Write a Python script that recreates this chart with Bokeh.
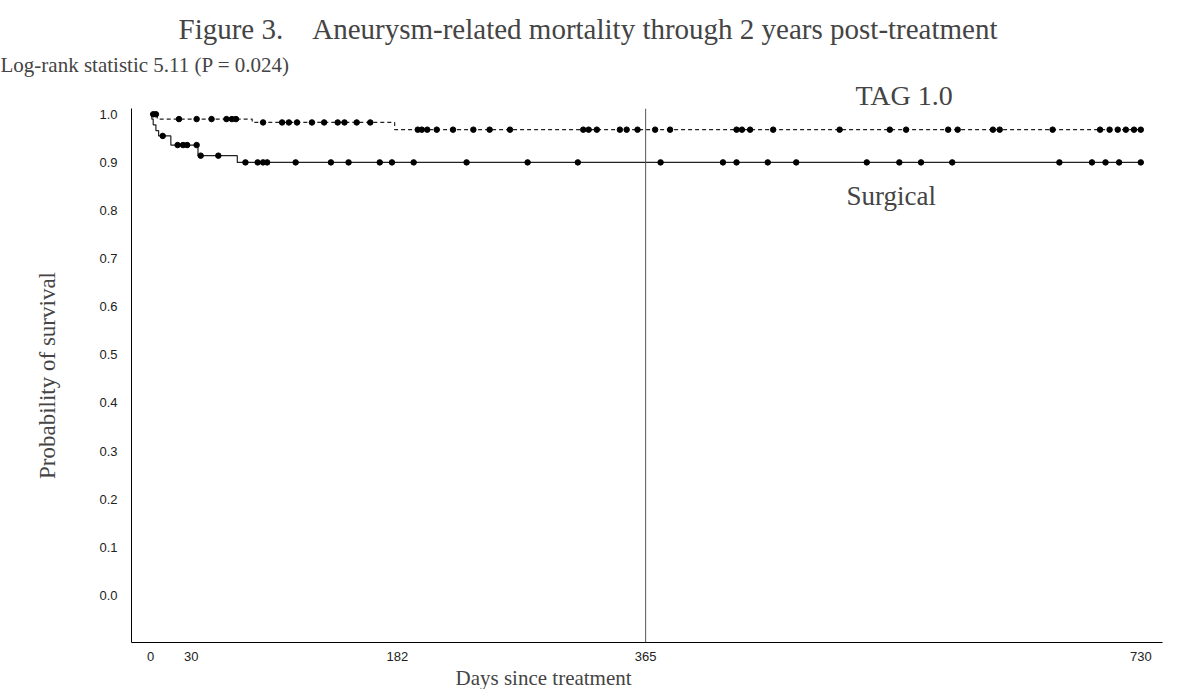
import numpy as np
from bokeh.plotting import figure
from bokeh.models import Span, Label, Title, FixedTicker, PrintfTickFormatter
from bokeh.embed import file_html
from bokeh.resources import INLINE

# ---- data ----
surg_event_days = [0, 1, 2, 4, 6, 15, 35, 64]
surg_levels = [1.0, 0.99, 0.978, 0.966, 0.955, 0.936, 0.914, 0.900]
surg_censor_days = [9, 20, 24, 27, 34, 37, 50, 70, 79, 83, 86, 107, 133, 146,
                    169, 178, 194, 233, 278, 315, 376, 422, 432, 455, 476, 528,
                    552, 568, 591, 670, 694, 704, 714, 730]

tag_event_days = [0, 5, 75, 180]
tag_levels = [1.0, 0.99, 0.983, 0.968]
tag_censor_days = [2, 4, 21, 34, 45, 56, 60, 63, 83, 97, 102, 108, 119, 128,
                   138, 143, 152, 162, 197, 200, 204, 211, 223, 238, 250, 265,
                   319, 323, 329, 346, 351, 359, 372, 383, 432, 436, 442, 459,
                   508, 545, 557, 588, 595, 621, 626, 665, 700, 707, 713, 719,
                   725, 730]

x_ticks = [0, 30, 182, 365, 730]
y_ticks = [0.0, 0.1, 0.2, 0.3, 0.4, 0.5, 0.6, 0.7, 0.8, 0.9, 1.0]
end_day = 730
landmark_day = 365

SERIF = "Liberation Serif"
SANS = "Liberation Sans"
NB = "\u00a0"


def level_at(days, events, levels):
    idx = np.searchsorted(np.asarray(events), np.asarray(days), side="right") - 1
    return list(np.asarray(levels)[idx])


p = figure(width=1163, height=689, x_range=(-14, 746), y_range=(-0.098, 1.012),
           output_backend="svg", toolbar_location=None,
           min_border_left=131, min_border_right=1, min_border_top=108,
           min_border_bottom=0)
p.title = None
p.outline_line_color = None
p.grid.visible = False
p.background_fill_color = "white"
p.border_fill_color = "white"

# axes
p.xaxis.ticker = FixedTicker(ticks=x_ticks)
p.yaxis.ticker = FixedTicker(ticks=y_ticks)
p.yaxis.formatter = PrintfTickFormatter(format="%.1f")
for ax in (p.xaxis, p.yaxis):
    ax.major_tick_line_color = None
    ax.minor_tick_line_color = None
    ax.axis_line_color = "black"
    ax.axis_line_width = 1
    ax.major_label_text_font = SANS
    ax.major_label_text_font_size = "13px"
    ax.major_label_text_color = "#222222"
p.xaxis.major_label_standoff = 3
p.yaxis.major_label_standoff = 8
p.yaxis.axis_label = "Probability of survival"
p.yaxis.axis_label_text_font = SERIF
p.yaxis.axis_label_text_font_style = "normal"
p.yaxis.axis_label_text_font_size = "23px"
p.yaxis.axis_label_standoff = 36

# landmark line at 1 year
p.add_layout(Span(location=landmark_day, dimension="height",
                  line_color="#555555", line_width=1))

# curves
sx = surg_event_days + [end_day]
sy = surg_levels + [surg_levels[-1]]
p.step(sx, sy, mode="after", line_color="#222222", line_width=1.2)
tx = tag_event_days + [end_day]
ty = tag_levels + [tag_levels[-1]]
p.step(tx, ty, mode="after", line_color="#222222", line_width=1.2,
       line_dash="4 3")

p.scatter(surg_censor_days, level_at(surg_censor_days, surg_event_days, surg_levels),
          size=5.5, color="black")
p.scatter(tag_censor_days, level_at(tag_censor_days, tag_event_days, tag_levels),
          size=5.5, color="black")

# curve label inside the plot
p.add_layout(Label(x=513, y=0.83, text="Surgical", text_font=SERIF,
                   text_font_size="27px", text_baseline="middle"))

# x label (below), shifted left as in the original
p.add_layout(Title(text="Days since treatment", align="left", offset=324,
                   text_font=SERIF, text_font_size="21px",
                   text_font_style="normal", standoff=0), "below")

# stacked texts above the plot (first added = closest to the plot)
p.add_layout(Title(text="TAG 1.0", align="left", offset=724,
                   text_font=SERIF, text_font_size="28px",
                   text_font_style="normal", standoff=-5), "above")
p.add_layout(Title(text="Log-rank statistic 5.11 (P = 0.024)", align="left",
                   offset=-131, text_font=SERIF, text_font_size="21px",
                   text_font_style="normal", standoff=7), "above")
p.add_layout(Title(text="Figure 3." + NB * 4 +
                   "Aneurysm-related mortality through 2 years post-treatment",
                   align="left", offset=47, text_font=SERIF,
                   text_font_size="29px", text_font_style="normal",
                   standoff=6), "above")

open("out.html", "w").write(file_html(p, INLINE))
